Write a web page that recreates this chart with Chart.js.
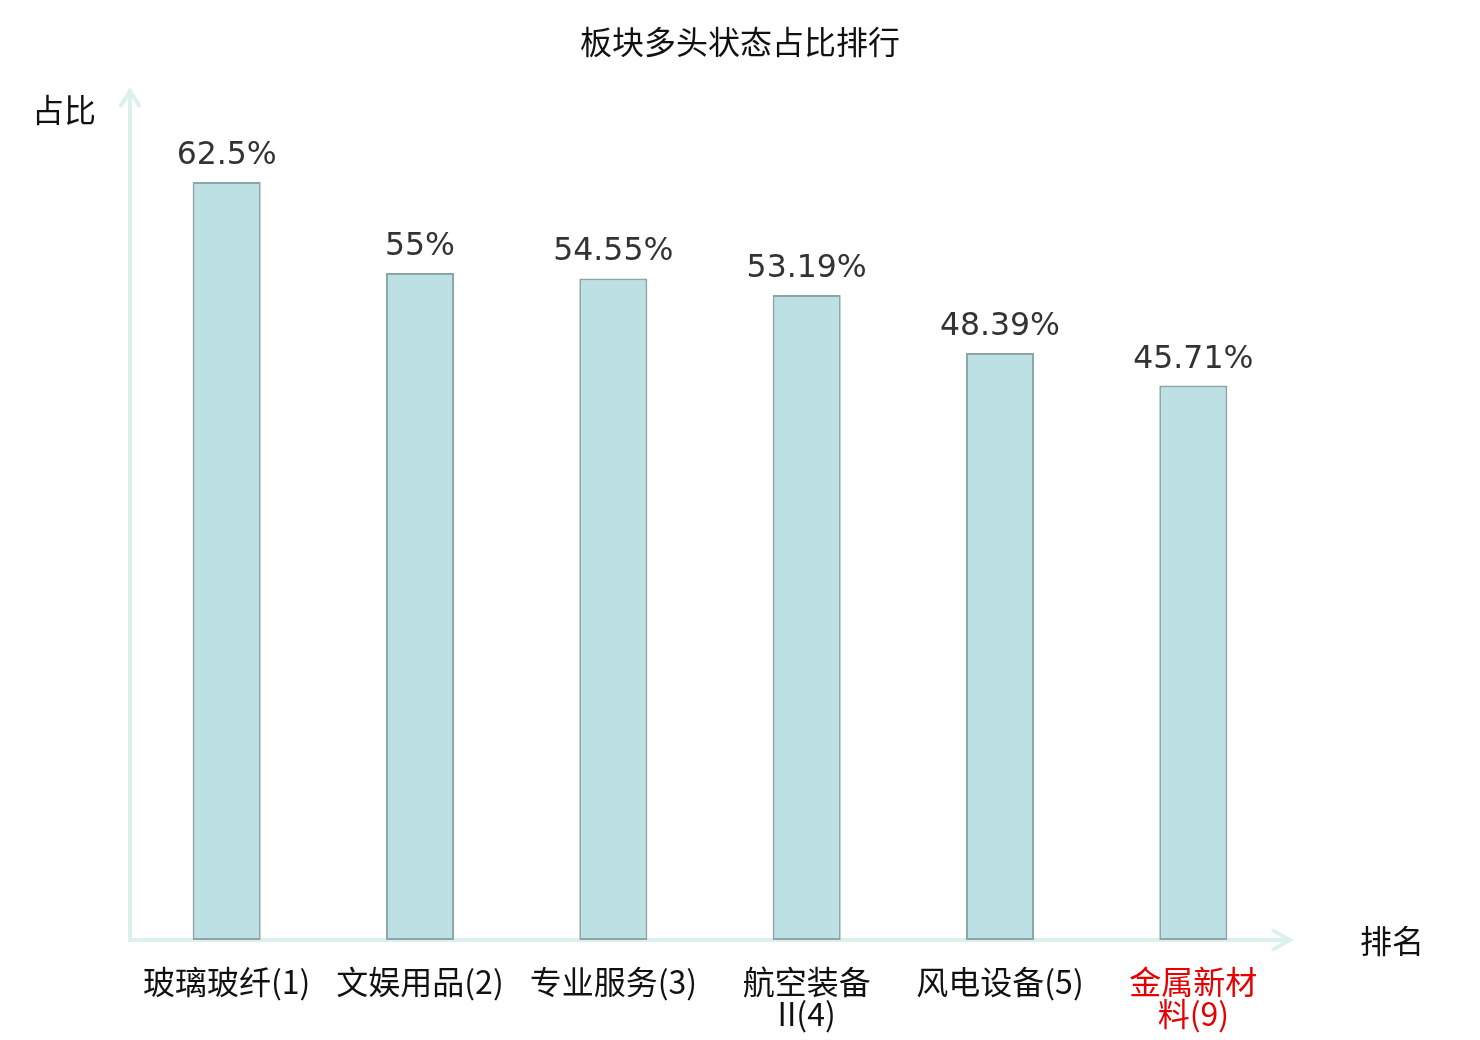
<!DOCTYPE html>
<html>
<head>
<meta charset="utf-8">
<script src="https://cdn.jsdelivr.net/npm/chart.js@4.4.0/dist/chart.umd.min.js"></script>
<style>
html,body{margin:0;padding:0;background:#fff;}
#wrap{width:1480px;height:1040px;position:relative;}
</style>
</head>
<body>
<div id="wrap"><canvas id="c" width="1480" height="1040"></canvas></div>
<script>
const categories = [
  ['玻璃玻纤(1)'],
  ['文娱用品(2)'],
  ['专业服务(3)'],
  ['航空装备', 'II(4)'],
  ['风电设备(5)'],
  ['金属新材', '料(9)']
];
const values = [62.5, 55, 54.55, 53.19, 48.39, 45.71];
const valueLabels = ['62.5%', '55%', '54.55%', '53.19%', '48.39%', '45.71%'];
const highlightIndex = 5;
const yMax = 70;
const chartTitle = '板块多头状态占比排行';
const yName = '占比';
const xName = '排名';

const AXIS_COLOR = '#dcf1ee';
const CJK = '"Noto Sans CJK SC", "Noto Sans", sans-serif';

const decor = {
  id: 'decor',
  beforeDatasetsDraw(chart) {
    const {ctx, chartArea: a} = chart;
    ctx.save();
    ctx.strokeStyle = AXIS_COLOR;
    ctx.lineWidth = 4;
    ctx.lineCap = 'butt';
    ctx.beginPath();
    ctx.moveTo(a.left, a.bottom);
    ctx.lineTo(a.left, a.top - 2);
    ctx.stroke();
    ctx.beginPath();
    ctx.moveTo(a.left - 10, a.top + 16);
    ctx.lineTo(a.left, a.top);
    ctx.lineTo(a.left + 10, a.top + 16);
    ctx.stroke();
    ctx.beginPath();
    ctx.moveTo(a.left - 2, a.bottom);
    ctx.lineTo(a.right, a.bottom);
    ctx.stroke();
    ctx.beginPath();
    ctx.moveTo(a.right - 18, a.bottom - 10);
    ctx.lineTo(a.right, a.bottom);
    ctx.lineTo(a.right - 18, a.bottom + 10);
    ctx.stroke();
    ctx.restore();
  },
  afterDatasetsDraw(chart) {
    const {ctx, chartArea: a} = chart;
    const meta = chart.getDatasetMeta(0);
    ctx.save();
    ctx.fillStyle = '#333333';
    ctx.font = '31.5px "DejaVu Sans", sans-serif';
    ctx.textAlign = 'center';
    ctx.textBaseline = 'alphabetic';
    meta.data.forEach((bar, i) => {
      ctx.fillText(valueLabels[i], bar.x, bar.y - 18);
    });
    ctx.fillStyle = '#111111';
    ctx.font = '32px ' + CJK;
    ctx.textBaseline = 'middle';
    ctx.textAlign = 'center';
    ctx.fillText(chartTitle, chart.width / 2, 42);
    ctx.textAlign = 'left';
    ctx.fillText(yName, 32, a.top + 19);
    ctx.fillText(xName, 1360, a.bottom + 1);
    ctx.restore();
  }
};

new Chart(document.getElementById('c'), {
  type: 'bar',
  data: {
    labels: categories,
    datasets: [{
      data: values,
      backgroundColor: '#bce0e3',
      borderColor: '#8aa6a7',
      borderWidth: 2,
      borderSkipped: false,
      categoryPercentage: 1,
      barPercentage: 0.352
    }]
  },
  options: {
    responsive: false,
    animation: false,
    devicePixelRatio: 1,
    layout: {padding: {left: 130, right: 190, top: 91, bottom: 0}},
    plugins: {
      legend: {display: false},
      tooltip: {enabled: false},
      title: {display: false}
    },
    scales: {
      y: {display: false, min: 0, max: yMax},
      x: {
        grid: {display: false},
        border: {display: false},
        ticks: {
          padding: 18,
          autoSkip: false,
          maxRotation: 0,
          color: (c) => c.index === highlightIndex ? '#e60000' : '#111111',
          font: {family: CJK, size: 32, lineHeight: 1.0}
        },
        afterFit(scale) { scale.height = 100; }
      }
    }
  },
  plugins: [decor]
});
</script>
</body>
</html>
